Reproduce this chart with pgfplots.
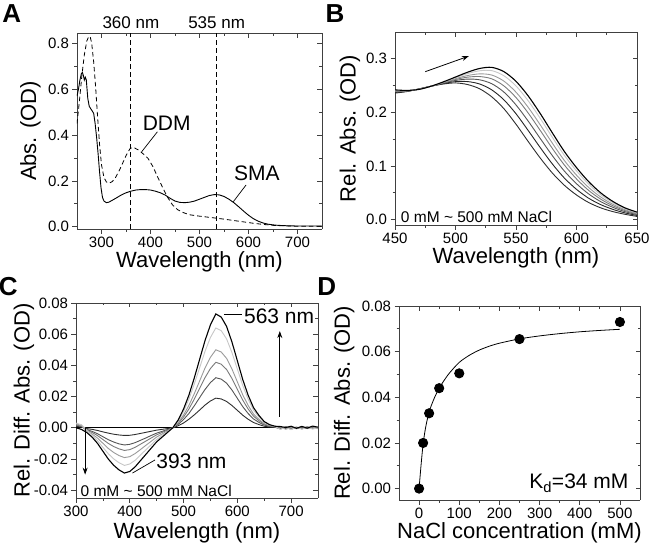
\documentclass[border=0pt]{standalone}
\usepackage{fontspec}
\setmainfont{Liberation Sans}
\usepackage{pgfplots}
\usepackage{pgfplotstable}
\pgfplotsset{compat=1.18}
\usetikzlibrary{arrows.meta}

\definecolor{g1}{gray}{0.18}
\definecolor{g2}{gray}{0.33}
\definecolor{g3}{gray}{0.48}
\definecolor{g4}{gray}{0.60}
\definecolor{g5}{gray}{0.78}

% Panel A
\pgfplotstableread{
x y
250 0.570
253 0.600
256 0.640
259 0.668
261 0.673
263 0.660
265 0.640
267 0.652
269 0.640
272 0.560
275 0.525
278 0.515
281 0.505
284 0.495
287 0.450
290 0.390
293 0.320
296 0.240
299 0.170
302 0.128
305 0.112
310 0.105
315 0.107
320 0.113
330 0.125
340 0.138
350 0.148
360 0.155
370 0.160
380 0.162
390 0.162
400 0.160
410 0.155
420 0.148
430 0.138
440 0.124
450 0.112
460 0.106
470 0.105
480 0.107
490 0.112
500 0.120
510 0.128
520 0.136
530 0.140
540 0.139
550 0.132
560 0.120
570 0.105
580 0.087
590 0.068
600 0.050
610 0.035
620 0.024
630 0.016
640 0.011
650 0.008
660 0.006
680 0.004
700 0.003
750 0.003
}\smatab

\pgfplotstableread{
x y
250 0.450
255 0.550
260 0.660
265 0.750
270 0.810
274 0.830
277 0.828
280 0.800
284 0.720
288 0.610
292 0.480
296 0.360
300 0.270
305 0.215
310 0.195
316 0.190
322 0.197
328 0.212
335 0.240
340 0.262
350 0.310
358 0.340
363 0.346
368 0.343
375 0.335
385 0.318
395 0.298
405 0.262
415 0.215
425 0.170
435 0.128
445 0.095
455 0.075
465 0.063
480 0.052
500 0.046
520 0.041
535 0.037
550 0.033
570 0.027
590 0.021
610 0.015
630 0.010
650 0.006
670 0.004
700 0.002
750 0.002
}\ddmtab

% Panel B
\pgfplotstableread{
x c0 c10 c25 c50 c100 c250 c500
450 0.2360 0.2373 0.2385 0.2395 0.2403 0.2413 0.2420
460 0.2390 0.2394 0.2398 0.2402 0.2404 0.2408 0.2410
470 0.2440 0.2438 0.2436 0.2434 0.2433 0.2431 0.2430
480 0.2490 0.2490 0.2490 0.2490 0.2490 0.2490 0.2490
490 0.2530 0.2539 0.2547 0.2553 0.2559 0.2565 0.2570
500 0.2550 0.2574 0.2596 0.2614 0.2629 0.2647 0.2660
510 0.2520 0.2575 0.2622 0.2658 0.2688 0.2724 0.2750
520 0.2440 0.2530 0.2608 0.2669 0.2719 0.2777 0.2820
530 0.2290 0.2420 0.2535 0.2626 0.2697 0.2779 0.2840
540 0.2070 0.2235 0.2380 0.2495 0.2584 0.2684 0.2760
550 0.1780 0.1975 0.2140 0.2278 0.2378 0.2494 0.2580
560 0.1460 0.1665 0.1840 0.1991 0.2097 0.2219 0.2310
570 0.1150 0.1345 0.1515 0.1665 0.1770 0.1890 0.1980
580 0.0870 0.1040 0.1195 0.1330 0.1427 0.1537 0.1620
590 0.0640 0.0775 0.0905 0.1018 0.1102 0.1198 0.1270
600 0.0460 0.0565 0.0670 0.0760 0.0830 0.0910 0.0970
610 0.0320 0.0400 0.0480 0.0546 0.0601 0.0663 0.0710
620 0.0220 0.0280 0.0336 0.0382 0.0422 0.0466 0.0500
630 0.0150 0.0192 0.0230 0.0260 0.0287 0.0317 0.0340
640 0.0100 0.0126 0.0150 0.0170 0.0186 0.0206 0.0220
650 0.0060 0.0078 0.0094 0.0106 0.0118 0.0130 0.0140
}\btab

% Panel C
\pgfplotstableread{
x a10 a25 a50 a100 a250 a500
300 0.0010 0.0015 0.0020 0.0025 0.0030 0.0000
310 0.0005 0.0008 0.0010 0.0015 0.0020 -0.0010
320 -0.0005 -0.0011 -0.0015 -0.0020 -0.0015 -0.0030
330 -0.0010 -0.0023 -0.0030 -0.0040 -0.0050 -0.0060
340 -0.0017 -0.0038 -0.0050 -0.0066 -0.0083 -0.0100
350 -0.0026 -0.0057 -0.0075 -0.0099 -0.0125 -0.0150
360 -0.0034 -0.0076 -0.0100 -0.0132 -0.0166 -0.0200
370 -0.0041 -0.0091 -0.0120 -0.0158 -0.0199 -0.0240
380 -0.0046 -0.0103 -0.0135 -0.0178 -0.0224 -0.0270
390 -0.0049 -0.0110 -0.0145 -0.0191 -0.0241 -0.0290
400 -0.0048 -0.0106 -0.0140 -0.0185 -0.0232 -0.0280
410 -0.0043 -0.0095 -0.0125 -0.0165 -0.0208 -0.0250
420 -0.0036 -0.0080 -0.0105 -0.0139 -0.0174 -0.0210
430 -0.0029 -0.0065 -0.0085 -0.0112 -0.0141 -0.0170
440 -0.0022 -0.0049 -0.0065 -0.0086 -0.0108 -0.0130
450 -0.0015 -0.0034 -0.0045 -0.0059 -0.0075 -0.0090
460 -0.0010 -0.0023 -0.0030 -0.0040 -0.0050 -0.0060
470 -0.0005 -0.0011 -0.0015 -0.0020 -0.0025 -0.0030
480 0.0000 0.0000 0.0000 0.0000 0.0000 0.0000
490 0.0013 0.0022 0.0029 0.0034 0.0044 0.0050
500 0.0031 0.0053 0.0069 0.0082 0.0105 0.0120
510 0.0055 0.0092 0.0121 0.0144 0.0184 0.0210
520 0.0083 0.0141 0.0184 0.0219 0.0281 0.0320
530 0.0114 0.0194 0.0253 0.0301 0.0386 0.0440
540 0.0146 0.0246 0.0322 0.0384 0.0491 0.0560
550 0.0172 0.0290 0.0380 0.0452 0.0579 0.0660
560 0.0190 0.0321 0.0420 0.0500 0.0640 0.0730
570 0.0185 0.0312 0.0408 0.0486 0.0623 0.0710
580 0.0169 0.0286 0.0374 0.0445 0.0570 0.0650
590 0.0143 0.0242 0.0316 0.0377 0.0482 0.0550
600 0.0112 0.0189 0.0247 0.0295 0.0377 0.0430
610 0.0081 0.0136 0.0178 0.0212 0.0272 0.0310
620 0.0055 0.0092 0.0121 0.0144 0.0184 0.0210
630 0.0034 0.0057 0.0075 0.0089 0.0114 0.0130
640 0.0021 0.0035 0.0046 0.0055 0.0070 0.0080
650 0.0010 0.0018 0.0023 0.0027 0.0035 0.0040
660 0.0005 0.0009 0.0012 0.0014 0.0018 0.0020
670 0.0003 0.0004 0.0006 0.0007 0.0009 0.0010
680 -0.0005 0.0003 -0.0008 0.0004 -0.0010 0.0008
690 0.0006 -0.0004 0.0005 -0.0009 0.0003 0.0002
700 -0.0003 0.0007 -0.0010 0.0002 -0.0012 0.0010
710 0.0004 -0.0006 0.0003 -0.0005 0.0006 -0.0003
720 -0.0007 0.0002 -0.0004 0.0008 -0.0009 0.0009
730 0.0005 -0.0005 0.0007 -0.0003 0.0004 -0.0002
740 -0.0002 0.0006 -0.0006 0.0005 -0.0008 0.0011
750 0.0003 -0.0003 0.0002 -0.0006 0.0001 0.0004
}\ctab

% Panel D
\pgfplotstableread{
x y
0 0.0000
10 0.0200
25 0.0330
50 0.0440
100 0.0505
250 0.0655
500 0.0730
}\dpts

\pgfplotstableread{
x y
0 0.0000
5 0.0105
10 0.0195
15 0.0255
20 0.0300
25 0.0333
30 0.0362
40 0.0405
50 0.0440
60 0.0468
75 0.0505
100 0.0553
125 0.0584
150 0.0607
175 0.0624
200 0.0637
250 0.0656
300 0.0669
350 0.0679
400 0.0687
450 0.0693
500 0.0698
}\dfit

\pgfplotsset{
  common/.style={
    scale only axis,
    clip mode=individual,
    scaled x ticks=false,
    scaled y ticks=false,
    axis line style={-, line width=0.8pt, black!75},
    tick style={line width=0.7pt, black!75},
    major tick length=4.5pt,
    minor tick length=2.5pt,
    minor x tick num=1,
    minor y tick num=1,
  },
  panel/.style={common,
    axis x line*=bottom, axis y line*=left,
    xtick pos=left, ytick pos=left,
    tick align=outside,
    tick label style={font=\fontsize{15}{16}\selectfont},
    /pgf/number format/assume math mode=true,
    label style={font=\fontsize{22}{24}\selectfont},
    every axis plot/.append style={line width=0.9pt},
  },
  mirror/.style={common,
    axis x line*=top, axis y line*=right,
    xtick pos=right, ytick pos=right,
    tick align=inside,
    xticklabels={}, yticklabels={},
  },
  prec1/.style={yticklabel style={/pgf/number format/fixed, /pgf/number format/fixed zerofill, /pgf/number format/precision=1}},
  prec2/.style={yticklabel style={/pgf/number format/fixed, /pgf/number format/fixed zerofill, /pgf/number format/precision=2}},
  boxA/.style={at={(77pt,318pt)}, anchor=south west, width=245pt, height=196pt,
    xmin=250, xmax=750, ymin=-0.01, ymax=0.845,
    xtick={300,400,500,600,700}, ytick={0,0.2,0.4,0.6,0.8}},
  boxB/.style={at={(395pt,322pt)}, anchor=south west, width=242pt, height=193pt,
    xmin=450, xmax=650, ymin=-0.01, ymax=0.35,
    xtick={450,500,550,600,650}, ytick={0,0.1,0.2,0.3}},
  boxC/.style={at={(76pt,49pt)}, anchor=south west, width=242pt, height=195pt,
    xmin=300, xmax=750, ymin=-0.045, ymax=0.08,
    xtick={300,400,500,600,700}, ytick={-0.04,-0.02,0,0.02,0.04,0.06,0.08}},
  boxD/.style={at={(399pt,47pt)}, anchor=south west, width=241pt, height=194pt,
    xmin=-50, xmax=550, ymin=-0.005, ymax=0.08,
    xtick={0,100,200,300,400,500}, ytick={0,0.02,0.04,0.06,0.08}},
}

\begin{document}
\begin{tikzpicture}
\path[use as bounding box] (0,0) rectangle (650pt,547pt);

% ---------- A ----------
\begin{axis}[mirror, boxA]
\end{axis}
\begin{axis}[panel, prec1, boxA,
  xlabel={Wavelength (nm)}, ylabel={Abs. (OD)},
  xlabel style={at={(axis description cs:0.5,-0.167)}, anchor=center},
  ylabel style={at={(axis description cs:-0.19,0.5)}, anchor=center},
]
\addplot[black, dash pattern=on 5pt off 3pt, line width=0.8pt] coordinates {(360,-0.01) (360,0.845)};
\addplot[black, dash pattern=on 5pt off 3pt, line width=0.8pt] coordinates {(535,-0.01) (535,0.845)};
\addplot[black, dash pattern=on 4.5pt off 3pt, line width=0.8pt] table[x=x,y=y] {\ddmtab};
\addplot[black, line width=0.9pt] table[x=x,y=y] {\smatab};
\node[font=\fontsize{17}{18}\selectfont] at (axis cs:360,0.89) {360 nm};
\node[font=\fontsize{17}{18}\selectfont] at (axis cs:535,0.89) {535 nm};
\node[font=\fontsize{21}{22}\selectfont] at (axis cs:433,0.451) {DDM};
\draw[black, line width=0.7pt] (axis cs:414,0.414) -- (axis cs:382,0.327);
\node[font=\fontsize{21}{22}\selectfont] at (axis cs:617,0.233) {SMA};
\draw[black, line width=0.7pt] (axis cs:595,0.182) -- (axis cs:569,0.109);
\end{axis}

% ---------- B ----------
\begin{axis}[mirror, boxB]
\end{axis}
\begin{axis}[panel, prec1, boxB,
  xlabel={Wavelength (nm)}, ylabel={Rel. Abs. (OD)},
  xlabel style={at={(axis description cs:0.5,-0.171)}, anchor=center},
  ylabel style={at={(axis description cs:-0.186,0.5)}, anchor=center},
]
\addplot[g1, smooth] table[x=x,y=c0] {\btab};
\addplot[g1!80!black, smooth] table[x=x,y=c10] {\btab};
\addplot[g2, smooth] table[x=x,y=c25] {\btab};
\addplot[g3, smooth] table[x=x,y=c50] {\btab};
\addplot[g4, smooth] table[x=x,y=c100] {\btab};
\addplot[g5, smooth] table[x=x,y=c250] {\btab};
\addplot[black, smooth, line width=1.1pt] table[x=x,y=c500] {\btab};
\draw[-{Stealth[length=7pt,width=5pt]}, line width=0.8pt] (axis cs:475,0.276) -- (axis cs:511,0.305);
\node[anchor=west, font=\fontsize{15.5}{16}\selectfont] at (axis cs:452,0.0055) {0 mM \textasciitilde{} 500 mM NaCl};
\end{axis}

% ---------- C ----------
\begin{axis}[mirror, boxC]
\end{axis}
\begin{axis}[panel, prec2, boxC,
  xlabel={Wavelength (nm)}, ylabel={Rel. Diff. Abs. (OD)},
  xlabel style={at={(axis description cs:0.5,-0.18)}, anchor=center},
  ylabel style={at={(axis description cs:-0.215,0.5)}, anchor=center},
]
\addplot[black, line width=0.8pt] coordinates {(300,0) (750,0)};
\addplot[g1] table[x=x,y=a10] {\ctab};
\addplot[g2] table[x=x,y=a25] {\ctab};
\addplot[g3] table[x=x,y=a50] {\ctab};
\addplot[g4] table[x=x,y=a100] {\ctab};
\addplot[g5] table[x=x,y=a250] {\ctab};
\addplot[black, line width=1.1pt] table[x=x,y=a500] {\ctab};
\draw[-{Stealth[length=7pt,width=5pt]}, line width=0.8pt] (axis cs:679,0.007) -- (axis cs:679,0.062);
\draw[-{Stealth[length=7pt,width=5pt]}, line width=0.8pt] (axis cs:317,0.0) -- (axis cs:317,-0.030);
\draw[line width=0.7pt] (axis cs:575,0.0725) -- (axis cs:608,0.0725);
\node[anchor=west, font=\fontsize{21}{22}\selectfont] at (axis cs:606,0.0715) {563 nm};
\draw[line width=0.7pt] (axis cs:405,-0.029) -- (axis cs:447,-0.0206);
\node[anchor=west, font=\fontsize{21}{22}\selectfont] at (axis cs:443,-0.0217) {393 nm};
\node[anchor=west, font=\fontsize{15.5}{16}\selectfont] at (axis cs:302,-0.0405) {0 mM \textasciitilde{} 500 mM NaCl};
\end{axis}

% ---------- D ----------
\begin{axis}[mirror, boxD]
\end{axis}
\begin{axis}[panel, prec2, boxD,
  xlabel={NaCl concentration (mM)}, ylabel={Rel. Diff. Abs. (OD)},
  xlabel style={at={(axis description cs:0.5,-0.17)}, anchor=center},
  ylabel style={at={(axis description cs:-0.228,0.5)}, anchor=center},
]
\addplot[black, line width=0.8pt, smooth] table[x=x,y=y] {\dfit};
\addplot[only marks, mark=*, mark size=4.6pt, black] table[x=x,y=y] {\dpts};
\node[anchor=base east, font=\fontsize{21}{22}\selectfont] at (axis cs:530,0.0) {K\textsubscript{d}=34 mM};
\end{axis}

\node[font=\bfseries\fontsize{26}{26}\selectfont] at (11.7pt,533.7pt) {A};
\node[font=\bfseries\fontsize{26}{26}\selectfont] at (335pt,533.7pt) {B};
\node[font=\bfseries\fontsize{26}{26}\selectfont] at (8.3pt,260.3pt) {C};
\node[font=\bfseries\fontsize{26}{26}\selectfont] at (326.7pt,260.3pt) {D};
\end{tikzpicture}
\end{document}
